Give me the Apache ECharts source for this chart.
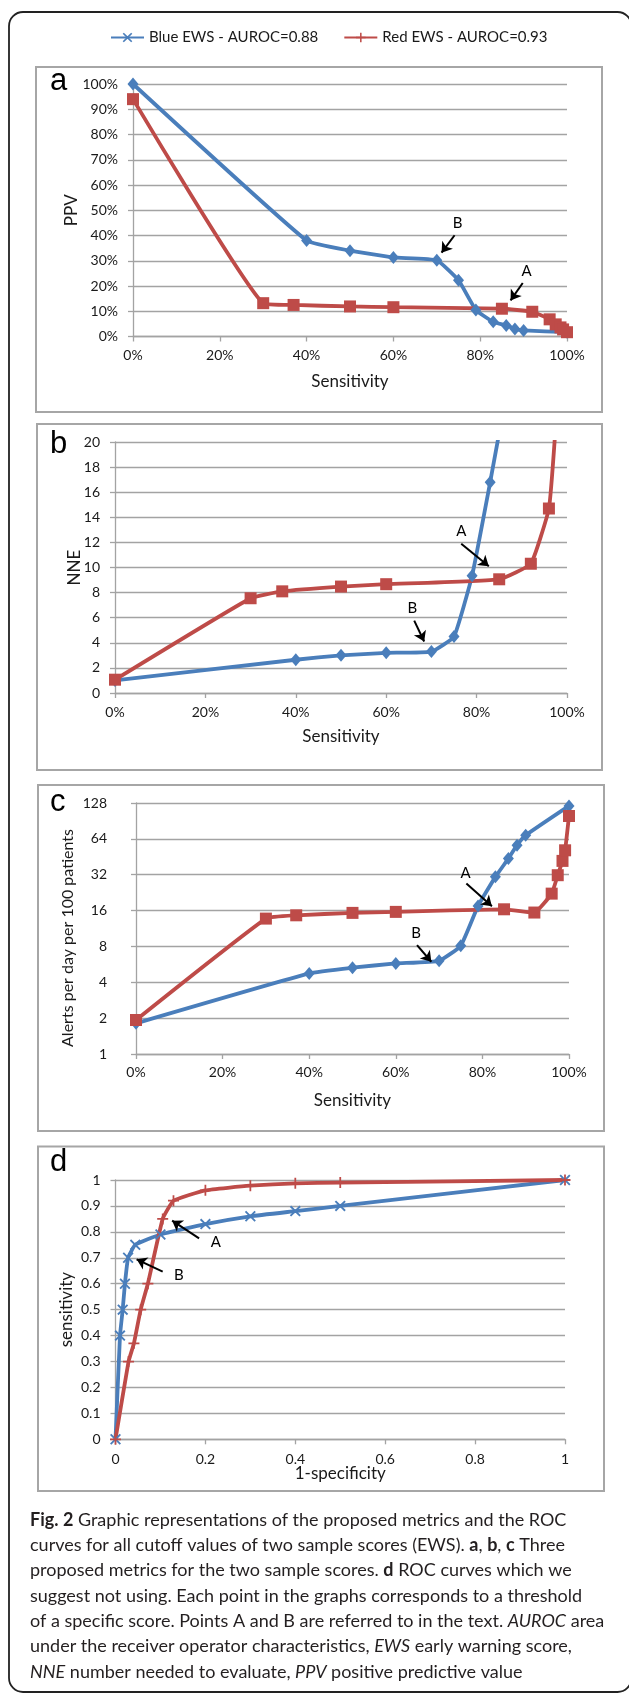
<!DOCTYPE html>
<html><head><meta charset="utf-8">
<script src="https://cdn.jsdelivr.net/npm/echarts@6/dist/echarts.min.js"></script>
<style>html,body{margin:0;padding:0;background:#fff;} #main{width:629px;height:1696px;}</style>
</head><body><div id="main"></div>
<script>
// ---------------- DATA ----------------
const BLUE_NAME = 'Blue EWS - AUROC=0.88';
const RED_NAME = 'Red EWS - AUROC=0.93';

// Panel a: PPV (%) vs sensitivity (%)
const aBlueSens = [0, 40, 50, 60, 70, 75, 79, 83, 86, 88, 90, 100];
const aBluePPV  = [100, 38, 34, 31.3, 30.2, 22.3, 10.5, 5.8, 4.4, 3.0, 2.4, 1.7];
const aRedSens  = [0, 30, 37, 50, 60, 85, 92, 96, 97.4, 98.5, 99.1, 100];
const aRedPPV   = [94, 13.2, 12.5, 11.9, 11.6, 11.0, 9.8, 6.8, 4.8, 3.6, 2.8, 1.7];

// Panel b: NNE vs sensitivity (%)
const bBlueSens = [0, 40, 50, 60, 70, 75, 79, 83, 86];
const bBlueNNE  = [1.0, 2.65, 3.0, 3.2, 3.3, 4.5, 9.35, 16.8, 22.7];
const bRedSens  = [0, 30, 37, 50, 60, 85, 92, 96, 97.4];
const bRedNNE   = [1.06, 7.55, 8.1, 8.48, 8.67, 9.06, 10.3, 14.7, 20.8];

// Panel c: alerts per day per 100 patients vs sensitivity (%)
const cBlueSens   = [0, 40, 50, 60, 70, 75, 79, 83, 86, 88, 90, 100];
const cBlueAlerts = [1.81, 4.75, 5.3, 5.76, 6.06, 8.1, 17.5, 30.7, 43.7, 56.6, 68.6, 121];
const cRedSens    = [0, 30, 37, 50, 60, 85, 92, 96, 97.4, 98.5, 99.1, 100];
const cRedAlerts  = [1.93, 13.7, 14.6, 15.3, 15.6, 16.4, 15.4, 22.2, 31.7, 41.8, 51.3, 99.6];

// Panel d: ROC (sensitivity vs 1-specificity)
const dBlueFPR  = [0, 0.01, 0.016, 0.021, 0.028, 0.044, 0.10, 0.20, 0.30, 0.40, 0.50, 1];
const dBlueSens = [0, 0.40, 0.50, 0.60, 0.70, 0.75, 0.79, 0.83, 0.86, 0.88, 0.90, 1];
const dRedFPR   = [0, 0.029, 0.041, 0.056, 0.072, 0.105, 0.129, 0.20, 0.30, 0.40, 0.50, 1];
const dRedSens  = [0, 0.30, 0.37, 0.50, 0.60, 0.85, 0.92, 0.96, 0.978, 0.987, 0.99, 1];

// Tick labels
const pctTicks = ['0%', '20%', '40%', '60%', '80%', '100%'];

// Annotation arrows (data coords): [label pos, arrow start, arrow end]
const annA = { a: [[90.7, 26.0], [89.8, 21.2], [87.0, 14.3]],
               b: [[76.6, 12.9], [76.6, 11.9], [82.7, 10.1]],
               c: [[76.1, 32.7], [76.3, 27.0], [82.2, 17.4]],
               d: [[0.223, 0.760], [0.186, 0.775], [0.126, 0.843]] };
const annB = { a: [[74.8, 45.0], [74.1, 40.1], [71.1, 33.2]],
               b: [[65.8, 6.75], [66.2, 5.77], [68.4, 4.1]],
               c: [[64.7, 10.3], [64.9, 8.2], [68.2, 5.95]],
               d: [[0.141, 0.634], [0.105, 0.647], [0.047, 0.694]] };

// Caption text
const captionLines = [
  '{b|Fig. 2} Graphic representations of the proposed metrics and the ROC',
  'curves for all cutoff values of two sample scores (EWS). {b|a}, {b|b}, {b|c} Three',
  'proposed metrics for the two sample scores. {b|d} ROC curves which we',
  'suggest not using. Each point in the graphs corresponds to a threshold',
  'of a specific score. Points A and B are referred to in the text. {i|AUROC} area',
  'under the receiver operator characteristics, {i|EWS} early warning score,',
  '{i|NNE} number needed to evaluate, {i|PPV} positive predictive value'
];
const cTitle = 'Alerts per day per 100 patients';

// ---------------- STYLE ----------------
const blueC = '#4A7EBB', redC = '#BE4B48', gridC = '#A3A3A3', txtC = '#1a1a1a';
const FONT = 'Lato, "Open Sans", sans-serif';
const CAP_FONT = 'Lato', CAP_SIZE = 18;
const X_PATH = 'path://M0,1.2L1.2,0L5,3.8L8.8,0L10,1.2L6.2,5L10,8.8L8.8,10L5,6.2L1.2,10L0,8.8L3.8,5Z';
const PLUS_PATH = 'path://M4.2,0H5.8V4.2H10V5.8H5.8V10H4.2V5.8H0V4.2H4.2Z';

function pairs(xs, ys) { return xs.map((x, i) => [x, ys[i]]); }

const grids = [
  { left: 133, top: 84, width: 434, height: 252.5 },
  { left: 115, top: 442, width: 452, height: 251 },
  { left: 136, top: 803, width: 433, height: 251 },
  { left: 115.5, top: 1180, width: 449.5, height: 259.3 }
];

function baseAxis(gi, extra) {
  return Object.assign({
    gridIndex: gi,
    axisLine: { show: true, onZero: false, lineStyle: { color: gridC, width: 1.3 } },
    axisTick: { show: true, length: 5, lineStyle: { color: gridC, width: 1.3 } },
    splitLine: { show: false },
    axisLabel: { color: txtC, fontSize: 14, fontFamily: FONT },
    nameLocation: 'middle',
    nameMoveOverlap: false,
    nameTextStyle: { color: txtC, fontSize: 17, fontFamily: FONT }
  }, extra);
}
function pctX(gi, margin, gap) {
  return baseAxis(gi, { type: 'value', min: 0, max: 100, interval: 20,
    axisLabel: { color: txtC, fontSize: 14, fontFamily: FONT, margin: margin,
      formatter: v => pctTicks[Math.round(v / 20)] },
    name: 'Sensitivity', nameGap: gap });
}
const ySplit = { show: true, lineStyle: { color: gridC, width: 1.3 } };

const xAxes = [
  pctX(0, 12, 37),
  pctX(1, 12, 35),
  pctX(2, 11, 38),
  baseAxis(3, { type: 'value', min: 0, max: 1, interval: 0.2, name: '1-specificity', nameGap: 26,
    axisLabel: { color: txtC, fontSize: 14, fontFamily: FONT, margin: 13 } })
];
const yAxes = [
  baseAxis(0, { type: 'value', min: 0, max: 100, interval: 10, splitLine: ySplit, name: 'PPV', nameGap: 53,
    axisLabel: { color: txtC, fontSize: 14, fontFamily: FONT, margin: 15, formatter: '{value}%' } }),
  baseAxis(1, { type: 'value', min: 0, max: 20, interval: 2, splitLine: ySplit, name: 'NNE', nameGap: 32,
    axisLabel: { color: txtC, fontSize: 14, fontFamily: FONT, margin: 15 } }),
  baseAxis(2, { type: 'log', logBase: 2, min: 1, max: 128, splitNumber: 7, splitLine: ySplit,
    axisLabel: { color: txtC, fontSize: 14, fontFamily: FONT, margin: 29 } }),
  baseAxis(3, { type: 'value', min: 0, max: 1, interval: 0.1, splitLine: ySplit, name: 'sensitivity', nameGap: 40,
    axisLabel: { color: txtC, fontSize: 14, fontFamily: FONT, margin: 15 } })
];

function annot(spec, key) {
  const [lab, from, to] = spec;
  return {
    markLine: { silent: true, animation: false, symbol: ['none', 'arrow'], symbolSize: 10,
      label: { show: false }, emphasis: { disabled: true },
      lineStyle: { color: '#000', width: 2, type: 'solid' },
      data: [[{ coord: from }, { coord: to }]] },
    markPoint: { silent: true, animation: false, symbol: 'circle', symbolSize: 2,
      itemStyle: { color: 'rgba(0,0,0,0)' },
      label: { show: true, position: 'inside', formatter: key, color: '#000', fontSize: 15, fontFamily: FONT },
      data: [{ name: key, coord: lab }] }
  };
}

function lineSeries(name, gi, data, color, symbol, size, ann) {
  return Object.assign({
    type: 'line', name: name, xAxisIndex: gi, yAxisIndex: gi, data: data,
    smooth: 0.12, clip: true, showAllSymbol: true,
    symbol: symbol, symbolSize: size,
    lineStyle: { color: color, width: 3.8 },
    itemStyle: { color: color, borderWidth: 0 },
    emphasis: { disabled: true }
  }, ann || {});
}

const series = [
  lineSeries(BLUE_NAME, 3, pairs(dBlueFPR, dBlueSens), blueC, X_PATH, 11, annot(annB.d, 'B')),
  lineSeries(RED_NAME, 3, pairs(dRedFPR, dRedSens), redC, PLUS_PATH, 11, annot(annA.d, 'A')),
  lineSeries(BLUE_NAME, 0, pairs(aBlueSens, aBluePPV), blueC, 'diamond', [11, 13], annot(annB.a, 'B')),
  lineSeries(RED_NAME, 0, pairs(aRedSens, aRedPPV), redC, 'rect', 12, annot(annA.a, 'A')),
  lineSeries(BLUE_NAME, 1, pairs(bBlueSens, bBlueNNE), blueC, 'diamond', [11, 13], annot(annB.b, 'B')),
  lineSeries(RED_NAME, 1, pairs(bRedSens, bRedNNE), redC, 'rect', 12, annot(annA.b, 'A')),
  lineSeries(BLUE_NAME, 2, pairs(cBlueSens, cBlueAlerts), blueC, 'diamond', [11, 13], annot(annB.c, 'B')),
  lineSeries(RED_NAME, 2, pairs(cRedSens, cRedAlerts), redC, 'rect', 12, annot(annA.c, 'A'))
];

// ---------------- GRAPHICS ----------------
const boxStyle = { fill: 'none', stroke: '#A6A6A6', lineWidth: 2 };
const boxes = [
  [36, 67, 566, 345], [37, 424, 565, 346], [38, 785, 566, 346], [38, 1146.5, 566, 344.5]
];
const letters = [['a', 81], ['b', 444], ['c', 802], ['d', 1162]];

const ctx = document.createElement('canvas').getContext('2d');
function segW(t, st) { ctx.font = st + ' ' + CAP_SIZE + 'px ' + CAP_FONT; return ctx.measureText(t).width; }
function lineW(line) {
  let w = 0; const re = /\{(b|i)\|([^}]*)\}|([^{]+)/g; let m;
  while ((m = re.exec(line))) {
    if (m[1] === 'b') w += segW(m[2], 'bold');
    else if (m[1] === 'i') w += segW(m[2], 'italic');
    else w += segW(m[3], 'normal');
  }
  return w;
}
const capScale = Math.min(1, 584 / lineW(captionLines[4]));

const graphic = [];
graphic.push({ type: 'rect', silent: true, shape: { x: 9, y: 12, width: 622.5, height: 1680, r: 14 },
  style: { fill: 'none', stroke: '#222', lineWidth: 1.8 } });
boxes.forEach(b => graphic.push({ type: 'rect', silent: true,
  shape: { x: b[0], y: b[1], width: b[2], height: b[3] }, style: boxStyle }));
letters.forEach(l => graphic.push({ type: 'text', silent: true, x: 50, y: l[1],
  style: { text: l[0], fontSize: 31, fontFamily: '"Liberation Sans", Arial, sans-serif', fill: '#000',
    verticalAlign: 'middle', align: 'left' } }));
graphic.push({ type: 'text', silent: true, x: 68, y: 938, rotation: Math.PI / 2,
  style: { text: cTitle, fontSize: 16, fontFamily: FONT, fill: txtC, align: 'center', verticalAlign: 'middle' } });
const rs = (w, s) => ({ fontSize: CAP_SIZE, fontFamily: CAP_FONT, fontWeight: w, fontStyle: s, fill: '#231F20', lineHeight: 22 });
captionLines.forEach((t, k) => graphic.push({ type: 'text', silent: true, x: 30, y: 1520 + k * 25.3, scaleX: capScale,
  style: { text: t, fontSize: CAP_SIZE, fontFamily: CAP_FONT, fill: '#231F20', verticalAlign: 'middle', align: 'left',
    lineHeight: 22, rich: { b: rs('bold', 'normal'), i: rs('normal', 'italic') } } }));

const chart = echarts.init(document.getElementById('main'), null, { renderer: 'canvas' });
chart.setOption({
  animation: false,
  backgroundColor: '#fff',
  legend: { data: [BLUE_NAME, RED_NAME], left: 110, top: 30, padding: 0, itemWidth: 33, itemHeight: 12, itemGap: 25,
    selectedMode: false, textStyle: { fontSize: 15, fontFamily: FONT, color: txtC } },
  grid: grids,
  xAxis: xAxes,
  yAxis: yAxes,
  series: series,
  graphic: graphic
});
</script></body></html>
